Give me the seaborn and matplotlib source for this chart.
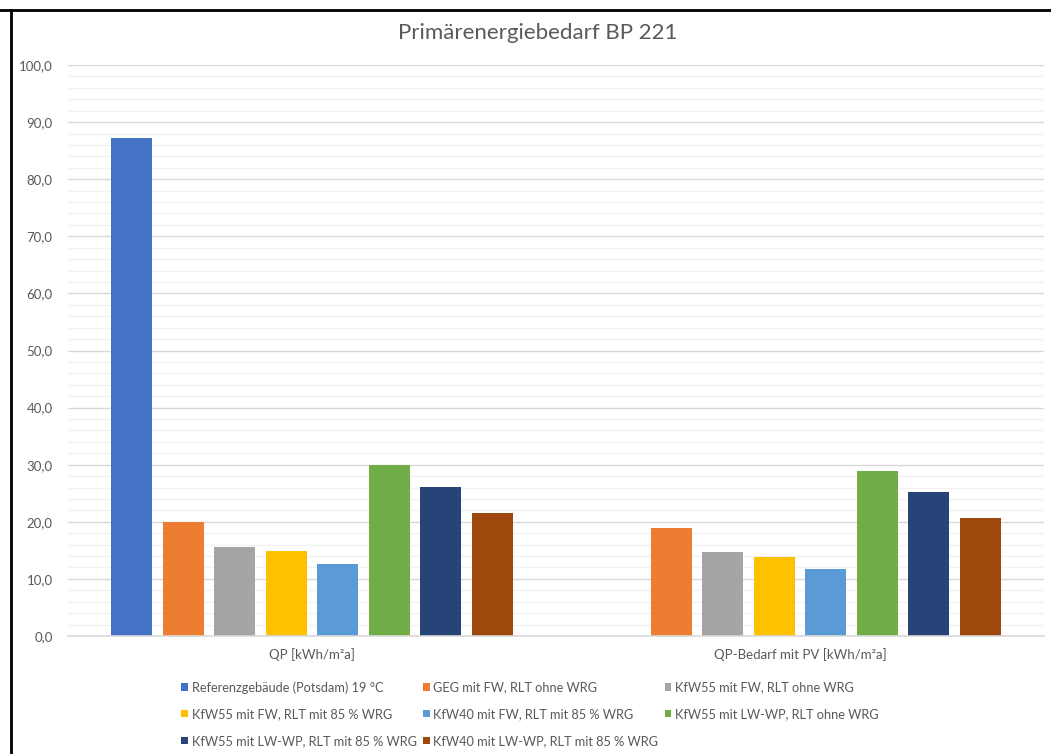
import matplotlib
matplotlib.use("Agg")
import matplotlib.pyplot as plt
from matplotlib.patches import Patch
from matplotlib.lines import Line2D
from matplotlib.ticker import MultipleLocator, FuncFormatter
import seaborn as sns
import pandas as pd
import numpy as np

categories = ["QP [kWh/m²a]", "QP-Bedarf mit PV [kWh/m²a]"]
series = [
    "Referenzgebäude (Potsdam) 19 °C",
    "GEG mit FW, RLT ohne WRG",
    "KfW55 mit FW, RLT ohne WRG",
    "KfW55 mit FW, RLT mit 85 % WRG",
    "KfW40 mit FW, RLT mit 85 % WRG",
    "KfW55 mit LW-WP, RLT ohne WRG",
    "KfW55 mit LW-WP, RLT mit 85 % WRG",
    "KfW40 mit LW-WP, RLT mit 85 % WRG",
]
qp_values = [87.3, 19.9, 15.6, 14.9, 12.6, 29.9, 26.1, 21.6]
qp_pv_values = [np.nan, 18.9, 14.7, 13.9, 11.8, 28.9, 25.3, 20.7]
colors = ["#4472C4", "#ED7D31", "#A5A5A5", "#FFC000",
          "#5B9BD5", "#70AD47", "#264478", "#9E480E"]

rows = []
for s, v1, v2 in zip(series, qp_values, qp_pv_values):
    rows.append({"cat": categories[0], "series": s, "value": v1})
    rows.append({"cat": categories[1], "series": s, "value": v2})
df = pd.DataFrame(rows)

sns.set_theme(style="white")
plt.rcParams["font.family"] = ["Lato", "DejaVu Sans"]

fig = plt.figure(figsize=(10.51, 7.54), dpi=100)
ax = fig.add_axes([68 / 1051, 1 - 636 / 754, (1044 - 68) / 1051, (636 - 65) / 754])

sns.barplot(data=df, x="cat", y="value", hue="series", order=categories,
            hue_order=series, palette=colors, width=0.845, gap=0.2,
            saturation=1, ax=ax, legend=False, errorbar=None, linewidth=0)

ax.set_ylim(0, 100)
ax.set_xlim(-0.5, 1.5)
ax.yaxis.set_major_locator(MultipleLocator(10))
ax.yaxis.set_minor_locator(MultipleLocator(2))
ax.yaxis.set_major_formatter(FuncFormatter(lambda v, p: f"{v:.1f}".replace(".", ",")))
ax.grid(axis="y", which="major", color="#d9d9d9", linewidth=1.0, zorder=0)
ax.grid(axis="y", which="minor", color="#f2f2f2", linewidth=1.0, zorder=0)
ax.set_axisbelow(True)
for side in ["top", "right", "left"]:
    ax.spines[side].set_visible(False)
ax.spines["bottom"].set_color("#d9d9d9")
ax.spines["bottom"].set_linewidth(1.2)
ax.tick_params(axis="both", which="both", length=0, colors="#595959", labelsize=9.5)
ax.tick_params(axis="y", pad=11)
ax.tick_params(axis="x", pad=9)
ax.set_xlabel("")
ax.set_ylabel("")

fig.text(538 / 1051, 1 - 33 / 754, "Primärenergiebedarf BP 221", ha="center",
         va="center", fontsize=16, color="#595959")

handles = [Patch(facecolor=c, edgecolor="none") for c in colors]
order = [0, 3, 6, 1, 4, 7, 2, 5]
leg = fig.legend([handles[i] for i in order], [series[i] for i in order],
                 ncol=3, loc="center", bbox_to_anchor=(530 / 1051, 1 - 714 / 754),
                 frameon=False, fontsize=9.2, handlelength=0.52, handleheight=0.52,
                 handletextpad=0.3, columnspacing=0.5, labelspacing=1.15,
                 borderpad=0)
for t in leg.get_texts():
    t.set_color("#595959")

fig.add_artist(Line2D([0, 1], [1 - 10 / 754, 1 - 10 / 754], color="black", lw=2,
                      transform=fig.transFigure))
fig.add_artist(Line2D([11 / 1051, 11 / 1051], [0, 1 - 10 / 754], color="black", lw=2,
                      transform=fig.transFigure))

fig.savefig("out.png", dpi=100, facecolor="white")
